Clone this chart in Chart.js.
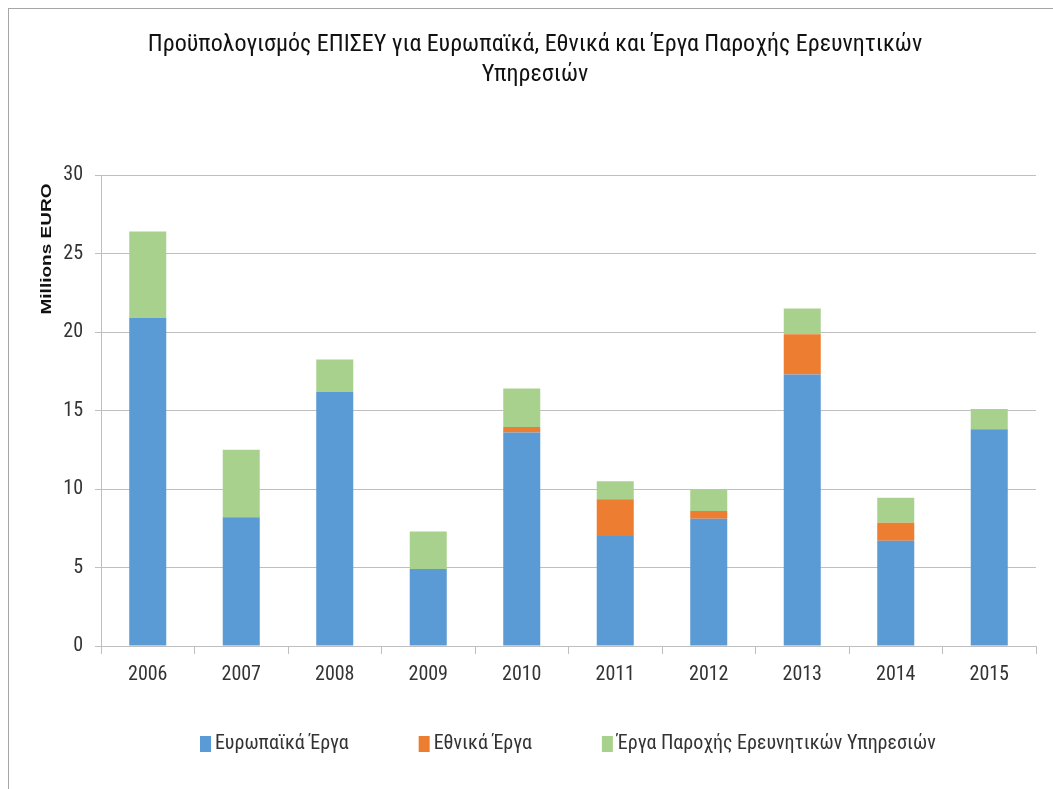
<!DOCTYPE html>
<html>
<head>
<meta charset="utf-8">
<script src="https://cdn.jsdelivr.net/npm/chart.js@4"></script>
<style>
    html, body { margin: 0; padding: 0; background: #fff; }
    #wrap { position: relative; width: 1053px; height: 789px; overflow: hidden; }
    #frame { position: absolute; left: 8px; top: 8px; width: 1060px; height: 800px; border-left: 1px solid #a6a6a6; border-top: 1px solid #a6a6a6; }
    canvas { position: absolute; left: 0; top: 0; }
</style>
</head>
<body>
<div id="wrap">
    <div id="frame"></div>
    <canvas id="chart" width="1053" height="789"></canvas>
</div>
<script>
// datos (millones de euros)
const anios = ['2006', '2007', '2008', '2009', '2010', '2011', '2012', '2013', '2014', '2015'];
const europaikaErga = [20.9, 8.2, 16.2, 4.9, 13.6, 7.0, 8.1, 17.3, 6.7, 13.8];
const ethnikaErga = [0, 0, 0, 0, 0.35, 2.35, 0.5, 2.55, 1.15, 0];
const ergaParoxis = [5.5, 4.3, 2.05, 2.4, 2.45, 1.15, 1.35, 1.65, 1.6, 1.3];
const yTicks = [0, 5, 10, 15, 20, 25, 30];
const tituloY = 'Millions EURO';

const FONT = "'Roboto Condensed', 'Liberation Sans', sans-serif";
const gridColor = '#bfbfbf';
const textColor = '#333';

// Titulo del eje Y: Excel lo pone arriba, no centrado en el eje
const tituloEjeY = {
    id: 'tituloEjeY',
    afterDraw(chart) {
        const ctx = chart.ctx;
        ctx.save();
        ctx.translate(47, 249);
        ctx.rotate(-Math.PI / 2);
        ctx.font = "bold 15px 'Liberation Sans', sans-serif";
        const w = ctx.measureText(tituloY).width;
        ctx.scale(131 / w, 1); // texto estirado como en la imagen
        ctx.fillStyle = '#111';
        ctx.textAlign = 'center';
        ctx.textBaseline = 'middle';
        ctx.fillText(tituloY, 0, 0);
        ctx.restore();
    }
};

// Leyenda propia, alineada como en Excel
const leyenda = {
    id: 'leyenda',
    afterLayout(chart) {
        // el titulo va centrado un poco a la derecha
        if (chart.titleBlock) {
            chart.titleBlock.left += 17;
            chart.titleBlock.right += 17;
        }
    },
    afterDraw(chart) {
        const ctx = chart.ctx;
        let x = 200;
        const y = 744;
        ctx.save();
        ctx.font = '20px ' + FONT;
        ctx.textBaseline = 'middle';
        chart.data.datasets.forEach(ds => {
            ctx.fillStyle = ds.backgroundColor;
            ctx.fillRect(x, y - 8, 11, 16);
            ctx.fillStyle = textColor;
            ctx.fillText(ds.label, x + 15, y);
            x += 15 + ctx.measureText(ds.label).width + 70;
        });
        ctx.restore();
    }
};

new Chart(document.getElementById('chart'), {
    type: 'bar',
    data: {
        labels: anios,
        datasets: [
            { label: 'Ευρωπαϊκά Έργα', data: europaikaErga, backgroundColor: '#5b9bd5' },
            { label: 'Εθνικά Έργα', data: ethnikaErga, backgroundColor: '#ed7d31' },
            { label: 'Έργα Παροχής Ερευνητικών Υπηρεσιών', data: ergaParoxis, backgroundColor: '#a9d18e' }
        ]
    },
    options: {
        responsive: false,
        animation: false,
        layout: { padding: { left: 0, right: 17, top: 0, bottom: 97 } },
        datasets: { bar: { barPercentage: 0.396, categoryPercentage: 1.0 } },
        scales: {
            x: {
                stacked: true,
                afterFit: axis => { axis.height = 46; },
                grid: { offset: true, drawOnChartArea: false, drawTicks: true, tickLength: 8, color: gridColor },
                border: { color: gridColor },
                ticks: { color: textColor, font: { family: FONT, size: 20 }, padding: 9 }
            },
            y: {
                stacked: true,
                min: 0,
                max: 30,
                afterBuildTicks: axis => { axis.ticks = yTicks.map(v => ({ value: v })); },
                afterFit: axis => { axis.width = 101; },
                grid: { color: gridColor, tickLength: 6 },
                border: { color: gridColor },
                ticks: { color: textColor, font: { family: FONT, size: 20 }, padding: 12 }
            }
        },
        plugins: {
            title: {
                display: true,
                text: ['Προϋπολογισμός ΕΠΙΣΕΥ για Ευρωπαϊκά, Εθνικά και Έργα Παροχής Ερευνητικών', 'Υπηρεσιών'],
                color: '#111',
                font: { family: FONT, size: 24, weight: 'normal', lineHeight: 1.25 },
                padding: { top: 30, bottom: 85 }
            },
            legend: { display: false },
            tooltip: { enabled: false }
        }
    },
    plugins: [tituloEjeY, leyenda]
});
</script>
</body>
</html>
